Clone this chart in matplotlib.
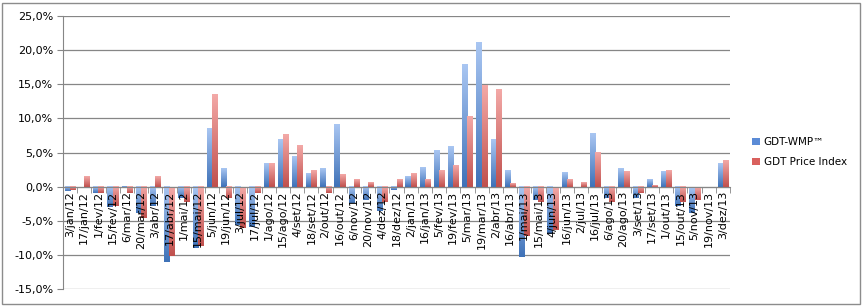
import numpy as np
import matplotlib
matplotlib.use("Agg")
import matplotlib.pyplot as plt
from matplotlib.colors import LinearSegmentedColormap
from matplotlib.patches import Rectangle, Patch
from matplotlib.ticker import FuncFormatter, FixedLocator

dates = ["3/jan/12", "17/jan/12", "1/fev/12", "15/fev/12", "6/mar/12", "20/mar/12",
         "3/abr/12", "17/abr/12", "1/mai/12", "15/mai/12", "5/jun/12", "19/jun/12",
         "3/jul/12", "17/jul/12", "1/ago/12", "15/ago/12", "4/set/12", "18/set/12",
         "2/out/12", "16/out/12", "6/nov/12", "20/nov/12", "4/dez/12", "18/dez/12",
         "2/jan/13", "16/jan/13", "5/fev/13", "19/fev/13", "5/mar/13", "19/mar/13",
         "2/abr/13", "16/abr/13", "1/mai/13", "15/mai/13", "4/jun/13", "16/jun/13",
         "2/jul/13", "16/jul/13", "6/ago/13", "20/ago/13", "3/set/13", "17/set/13",
         "1/out/13", "15/out/13", "5/nov/13", "19/nov/13", "3/dez/13"]

gdt_wmp = [-0.7, 0.0, -0.9, -3.0, -0.1, -3.9, -2.9, -11.0, -1.7, -9.0, 8.6, 2.7,
           -5.6, -5.9, 3.5, 6.9, 4.4, 2.0, 2.7, 9.2, -2.4, -2.0, -3.6, -0.5,
           1.5, 2.8, 5.4, 5.9, 18.0, 21.2, 7.0, 2.4, -10.3, -2.0, -7.0, 2.1,
           0.0, 7.8, -1.7, 2.7, -1.7, 1.1, 2.3, -2.8, -3.8, 0.0, 3.4]

gdt_price = [-0.5, 1.6, -0.9, -2.9, -0.9, -4.6, 1.6, -10.1, -2.2, -8.7, 13.6, -1.7,
             -6.0, -0.9, 3.5, 7.7, 6.1, 2.4, -0.9, 1.8, 1.1, 0.7, -2.2, 1.1,
             2.0, 1.1, 2.4, 3.1, 10.4, 14.8, 14.3, 0.5, -7.3, -2.2, -6.3, 1.1,
             0.7, 5.0, -2.3, 2.3, -1.0, 0.2, 2.4, -2.2, -1.9, 0.0, 3.9]

series_names = ["GDT-WMP\u2122", "GDT Price Index"]

fig = plt.figure(figsize=(8.63, 3.06), dpi=100)
fig.patch.set_facecolor("white")
ax = fig.add_axes([63/863, 1-289/306, (730-63)/863, (289-16)/306])

x = np.arange(len(dates))
w = 0.37
b1 = ax.bar(x - w/2, gdt_wmp, w, color="#6f9be0", zorder=3)
b2 = ax.bar(x + w/2, gdt_price, w, color="#e07270", zorder=3)

grad = np.linspace(0, 1, 64).reshape(-1, 1)

def gradient(bars, c_bot, c_top):
    cmap = LinearSegmentedColormap.from_list("g", [c_bot, c_top])
    for b in bars:
        h = b.get_height()
        if h == 0:
            b.set_visible(False)
            continue
        b.set_facecolor("none")
        b.set_edgecolor("none")
        x0, y0, bw = b.get_x(), b.get_y(), b.get_width()
        lo, hi = min(y0, y0 + h), max(y0, y0 + h)
        ax.imshow(grad, extent=[x0, x0 + bw, lo, hi], origin="lower", cmap=cmap,
                  aspect="auto", zorder=3, interpolation="bilinear")

gradient(b1, "#3f72b8", "#a9c6f2")
gradient(b2, "#c0504d", "#f3a9a7")

ax.set_xlim(-0.5, len(dates) - 0.5)
ax.set_ylim(-15, 25)
ax.set_aspect("auto")
ax.set_yticks(np.arange(-15, 26, 5))
ax.yaxis.set_major_formatter(FuncFormatter(lambda v, p: f"{v:.1f}%".replace(".", ",")))
ax.grid(axis="y", color="#868686", linewidth=0.9, zorder=0)
ax.set_axisbelow(True)

for s in ["top", "right"]:
    ax.spines[s].set_visible(False)
ax.spines["left"].set_color("#868686")
ax.spines["bottom"].set_color("#868686")
ax.spines["bottom"].set_position(("data", 0))
ax.spines["bottom"].set_zorder(4)

ax.set_xticks(x)
ax.set_xticklabels(dates, rotation=90, fontsize=8, color="black")
ax.xaxis.set_minor_locator(FixedLocator(np.arange(-0.5, len(dates), 1)))
ax.tick_params(axis="x", which="major", length=0, pad=3)
ax.tick_params(axis="x", which="minor", length=4, direction="out", color="#868686")
ax.tick_params(axis="y", length=4, color="#868686", labelsize=8, pad=3)
ax.xaxis.set_zorder(5)

handles = [Patch(facecolor="#5b8bd6", edgecolor="none"),
           Patch(facecolor="#d9605d", edgecolor="none")]
fig.legend(handles, series_names, loc="center left", bbox_to_anchor=(743/863, 1-152/306),
           frameon=False, fontsize=7.5, handlelength=0.7, handleheight=0.7,
           handletextpad=0.4, labelspacing=1.0)

fig.patches.append(Rectangle((2/863, 2/306), 858/863, 301/306, transform=fig.transFigure,
                             fill=False, edgecolor="#8c8c8c", linewidth=1))

fig.savefig("out.png", dpi=100)
